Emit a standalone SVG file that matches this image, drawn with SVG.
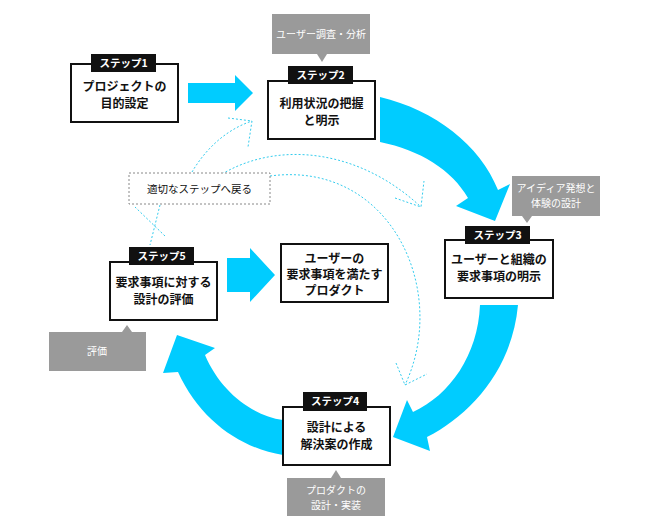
<svg xmlns="http://www.w3.org/2000/svg" width="660" height="528" viewBox="0 0 660 528">
<style>
.box{fill:#fff;stroke:#111;stroke-width:2}
.lab{fill:#111}
.labt{fill:#fff;font-family:"Noto Sans CJK JP","Noto Sans",sans-serif;font-size:10.5px;font-weight:bold;text-anchor:middle}
.t{fill:#111;font-family:"Noto Sans CJK JP","Noto Sans",sans-serif;font-size:12px;font-weight:bold;text-anchor:middle}
.call{fill:#9a9a9a}
.ct{fill:#fff;font-family:"Noto Sans CJK JP","Noto Sans",sans-serif;font-size:10px;text-anchor:middle}
.big{fill:#00ccff}
.dot{fill:none;stroke:#33ccee;stroke-width:1;stroke-dasharray:2 2}
</style>
<rect width="660" height="528" fill="#fff"/>
<g id="connectors">
<path class="big" d="M188,83 H235 V75 L253,93 L235,111 V103 H188 Z"/>
<path class="big" d="M227,258 H250 V248 L275,275 L250,302 V292 H227 Z"/>
<path class="big" d="M380,97 C435,110 480,145 498,190 L510,184 L495,221 L456,206 L468,198 C452,170 420,150 380,142 Z"/>
<path class="big" d="M518,305 C512,370 470,415 427,437 L430,451 L393,437 L407,400 L413,412 C450,395 478,355 480,305 Z"/>
<path class="big" d="M283,455 C240,448 200,420 178,372 L163,373 L177,335 L215,348 L205,355 C220,390 250,415 283,420 Z"/>
<path class="dot" d="M192,172 C205,150 225,130 252,121"/>
<path class="dot" d="M228,118 L252,121 L248,147"/>
<path class="dot" d="M165,236 L135,207"/>
<path class="dot" d="M222,174 C280,140 360,150 421,207"/>
<path class="dot" d="M395,198 L421,207 L424,181"/>
<path class="dot" d="M270,176 C390,160 450,290 405,385"/>
<path class="dot" d="M396,363 L405,385 L427,374"/>
<path class="dot" d="M160,205 L150,245"/>
</g>
<g id="return">
<rect x="129" y="173" width="141" height="31" fill="#fff" stroke="#888" stroke-width="1" stroke-dasharray="2 2"/>
<text class="t" x="199.5" y="193" style="font-weight:normal;font-size:10.5px">適切なステップへ戻る</text>
</g>
<g id="step1">
<rect class="box" x="71" y="64" width="107" height="58"/>
<rect class="lab" x="91" y="54" width="65" height="18"/>
<text class="labt" x="123.5" y="67">ステップ1</text>
<text class="t" x="124.5" y="91">プロジェクトの</text>
<text class="t" x="124.5" y="108">目的設定</text>
</g>
<g id="step2">
<path class="call" d="M272,14 H370 V54 H327 L322,62 L317,54 H272 Z"/>
<text class="ct" x="321" y="38">ユーザー調査・分析</text>
<rect class="box" x="268" y="81" width="107" height="58"/>
<rect class="lab" x="288" y="66" width="65" height="18"/>
<text class="labt" x="320.5" y="79">ステップ2</text>
<text class="t" x="321.5" y="108">利用状況の把握</text>
<text class="t" x="321.5" y="125">と明示</text>
</g>
<g id="step3">
<path class="call" d="M512,176 H600 V216 H532 L527,223 L522,216 H512 Z"/>
<text class="ct" x="556" y="192">アイディア発想と</text>
<text class="ct" x="556" y="207">体験の設計</text>
<rect class="box" x="445" y="240" width="108" height="58"/>
<rect class="lab" x="465" y="226" width="65" height="18"/>
<text class="labt" x="497.5" y="239">ステップ3</text>
<text class="t" x="499" y="264">ユーザーと組織の</text>
<text class="t" x="499" y="281">要求事項の明示</text>
</g>
<g id="step4">
<rect class="box" x="283" y="407" width="107" height="58"/>
<rect class="lab" x="303" y="392" width="64" height="19"/>
<text class="labt" x="335" y="405">ステップ4</text>
<text class="t" x="336.5" y="432">設計による</text>
<text class="t" x="336.5" y="449">解決案の作成</text>
<path class="call" d="M287,478 H331 L336,470 L341,478 H385 V516 H287 Z"/>
<text class="ct" x="336" y="494">プロダクトの</text>
<text class="ct" x="336" y="509">設計・実装</text>
</g>
<g id="step5">
<rect class="box" x="110" y="262" width="107" height="58"/>
<rect class="lab" x="129" y="247" width="65" height="18"/>
<text class="labt" x="161.5" y="260">ステップ5</text>
<text class="t" x="163.5" y="287">要求事項に対する</text>
<text class="t" x="163.5" y="304">設計の評価</text>
<path class="call" d="M49,332 H122 L127,325 L132,332 H146 V371 H49 Z"/>
<text class="ct" x="97" y="355">評価</text>
</g>
<g id="product">
<rect class="box" x="281" y="244" width="107" height="58"/>
<text class="t" x="334.5" y="263">ユーザーの</text>
<text class="t" x="334.5" y="279">要求事項を満たす</text>
<text class="t" x="334.5" y="295">プロダクト</text>
</g>
</svg>
